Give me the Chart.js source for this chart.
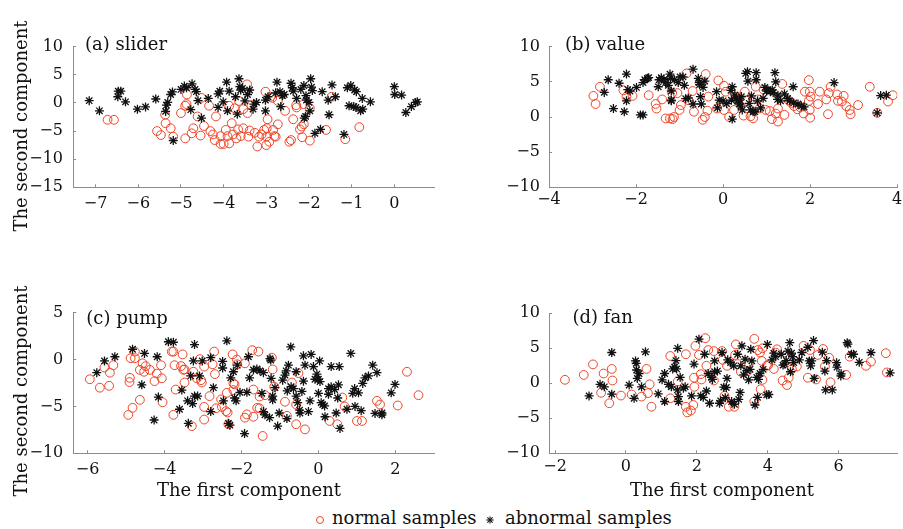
<!DOCTYPE html>
<html>
<head>
<meta charset="utf-8">
<title>PCA scatter</title>
<script src="https://cdn.jsdelivr.net/npm/chart.js@4.4.1/dist/chart.umd.min.js"></script>
<style>
  body { margin: 0; background: #fff; }
  #fig { position: relative; width: 903px; height: 529px; overflow: hidden; font-family: "DejaVu Serif", serif; color: #111; }
  #fig canvas { position: absolute; }
  .txt { position: absolute; font-size: 18px; line-height: 18px; white-space: nowrap; }
  .ytitle { transform: translate(-50%, -50%) rotate(-90deg); }
  .xtitle { transform: translateX(-50%); }
  .mk-circle { position: absolute; width: 8px; height: 8px; border: 1px solid #ee4426; border-radius: 50%; box-sizing: border-box; }
</style>
</head>
<body>
<div id="fig">
  <canvas id="chartA" width="450" height="230" style="left:0;top:0"></canvas>
  <canvas id="chartB" width="443" height="230" style="left:460px;top:0"></canvas>
  <canvas id="chartC" width="450" height="210" style="left:0;top:270px"></canvas>
  <canvas id="chartD" width="443" height="210" style="left:460px;top:270px"></canvas>

  <div class="txt ytitle" style="left:21px;top:126px">The second component</div>
  <div class="txt ytitle" style="left:21px;top:391px">The second component</div>
  <div class="txt xtitle" style="left:249px;top:481px">The first component</div>
  <div class="txt xtitle" style="left:722px;top:481px">The first component</div>

  <!-- legend -->
  <div class="mk-circle" style="left:316px;top:516px"></div>
  <div class="txt" style="left:332px;top:509px">normal samples</div>
  <svg style="position:absolute;left:485px;top:515px" width="10" height="10" viewBox="-5 -5 10 10">
    <g stroke="#111" stroke-width="1.1">
      <line x1="-3.6" y1="0" x2="3.6" y2="0"/><line x1="0" y1="-3.6" x2="0" y2="3.6"/>
      <line x1="-2.6" y1="-2.6" x2="2.6" y2="2.6"/><line x1="-2.6" y1="2.6" x2="2.6" y2="-2.6"/>
    </g>
  </svg>
  <div class="txt" style="left:505px;top:509px">abnormal samples</div>
</div>

<script>
// tick values of each panel
const sliderXTicks = [-7, -6, -5, -4, -3, -2, -1, 0];
const sliderYTicks = [-15, -10, -5, 0, 5, 10];
const valueXTicks = [-4, -2, 0, 2, 4];
const valueYTicks = [-10, -5, 0, 5, 10];
const pumpXTicks = [-6, -4, -2, 0, 2];
const pumpYTicks = [-10, -5, 0, 5];
const fanXTicks = [-2, 0, 2, 4, 6];
const fanYTicks = [-10, -5, 0, 5, 10];

// (a) slider
const sliderNormal = [
  [-6.72,-3.0],[-6.57,-3.0],[-5.56,-5.0],[-5.47,-5.7],[-5.36,-3.6],[-5.37,-2.1],[-5.24,-4.5],[-5.18,-6.0],[-5.0,-1.8],[-4.9,-6.3],
  [-4.87,-0.2],[-4.86,1.5],[-4.9,-0.5],[-4.75,-5.4],[-4.71,-4.5],[-4.61,-2.4],[-4.54,-5.8],[-4.52,0.9],[-4.46,-4.1],[-4.34,-0.5],
  [-4.31,-5.0],[-4.25,-5.6],[-4.21,-6.6],[-4.18,-2.4],[-4.07,-5.9],[-4.07,-7.3],[-4.0,-7.3],[-3.95,-4.8],[-3.91,-5.9],[-3.87,-0.5],
  [-3.87,-7.2],[-3.81,-3.6],[-3.78,-5.6],[-3.74,-0.95],[-3.7,-6.3],[-3.66,-4.7],[-3.64,0.35],[-3.6,-5.9],[-3.54,-4.5],[-3.54,-1.1],
  [-3.45,3.3],[-3.44,-1.8],[-3.42,-6.0],[-3.39,-4.9],[-3.35,-0.4],[-3.27,-5.3],[-3.21,-7.75],[-3.17,-6.0],[-3.11,-5.6],[-3.05,-4.8],
  [-3.02,2.0],[-3.0,-7.5],[-3.0,-6.0],[-2.99,-4.5],[-2.97,-2.9],[-2.93,-6.9],[-2.9,1.1],[-2.84,-4.8],[-2.81,-5.9],[-2.78,-6.0],
  [-2.73,-3.8],[-2.86,0.9],[-2.73,0.35],[-2.56,-1.4],[-2.46,-6.9],[-2.42,-6.6],[-2.37,-2.9],[-2.3,-0.4],[-2.29,-0.8],[-2.21,-4.7],
  [-2.17,-4.2],[-2.16,-6.1],[-2.13,-0.2],[-2.12,-3.8],[-1.98,-0.95],[-1.98,-6.7],[-1.6,-4.8],[-1.47,1.1],[-1.15,-6.45],[-0.82,-4.3]
];
const sliderAbnormal = [
  [-7.15,0.4],[-6.91,-1.4],[-6.47,2.1],[-6.41,2.1],[-6.48,1.1],[-6.3,0.2],[-6.02,-1.1],[-5.83,-0.7],[-5.59,0.7],[-5.36,-1.5],
  [-5.34,-0.4],[-5.31,0.1],[-5.2,1.95],[-5.24,1.5],[-5.18,-6.7],[-5.0,2.4],[-4.92,3.0],[-4.87,2.7],[-4.74,3.4],[-4.67,2.4],
  [-4.64,2.0],[-4.77,-1.2],[-4.6,0.4],[-4.52,-2.7],[-4.36,0.8],[-4.13,1.6],[-4.09,2.1],[-4.01,0.2],[-4.13,-0.8],[-3.93,3.7],
  [-3.91,-1.4],[-3.87,2.1],[-3.72,1.1],[-3.64,4.3],[-3.62,2.9],[-3.6,2.3],[-3.56,2.6],[-3.68,-2.0],[-3.5,0.35],[-3.39,2.3],
  [-3.44,1.5],[-3.29,-0.2],[-3.23,0.1],[-3.31,-1.1],[-3.02,0.5],[-3.02,-1.4],[-2.96,1.1],[-2.75,3.7],[-2.78,1.8],[-2.68,2.0],
  [-2.62,1.3],[-2.58,1.5],[-2.66,-0.65],[-2.42,3.5],[-2.39,2.7],[-2.37,2.1],[-2.29,0.8],[-2.19,2.4],[-2.12,3.1],[-2.07,1.3],
  [-2.06,0.5],[-2.11,-2.7],[-2.08,-2.4],[-1.96,4.3],[-1.94,2.8],[-1.92,2.2],[-2.0,0.1],[-1.98,-1.4],[-1.86,-5.4],[-1.73,-4.7],
  [-1.69,2.0],[-1.46,3.2],[-1.55,0.5],[-1.53,-2.1],[-1.38,1.1],[-1.18,-5.6],[-1.1,2.7],[-1.02,3.1],[-0.93,2.3],[-0.89,2.0],
  [-1.06,-0.5],[-0.95,-0.65],[-0.9,-0.8],[-0.75,0.8],[-0.79,-1.4],[-0.74,-1.1],[-0.56,0.2],[0.0,2.9],[0.01,1.5],[0.17,1.4],
  [0.27,-1.7],[0.4,-0.65],[0.5,0.1],[0.54,0.2]
];

// (b) value
const valueNormal = [
  [-2.98,3.0],[-2.93,1.85],[-2.83,4.3],[-2.29,3.8],[-2.22,2.9],[-2.08,3.0],[-1.71,3.1],[-1.55,1.85],[-1.53,1.2],[-1.4,2.5],
  [-1.32,-0.2],[-1.22,-0.2],[-1.16,-0.3],[-1.13,0.0],[-1.17,3.4],[-1.05,3.4],[-1.0,1.0],[-0.97,1.7],[-0.84,6.2],[-0.8,2.4],
  [-0.7,3.7],[-0.67,0.75],[-0.47,-0.4],[-0.42,0.0],[-0.4,6.1],[-0.36,0.9],[-0.34,2.9],[-0.11,5.2],[-0.14,1.2],[0.02,4.45],
  [0.02,1.0],[0.06,3.6],[0.14,0.0],[0.25,1.0],[0.32,2.9],[0.47,0.2],[0.5,3.6],[0.54,2.3],[0.63,0.1],[0.69,-0.2],
  [0.75,4.3],[0.8,2.5],[0.84,1.2],[0.93,3.9],[0.98,1.0],[1.07,0.85],[1.12,-0.3],[1.21,0.5],[1.26,-0.65],[1.26,1.2],
  [1.36,4.7],[1.41,0.3],[1.5,2.4],[1.57,2.0],[1.63,1.55],[1.71,1.1],[1.77,1.4],[1.85,0.5],[1.88,3.6],[1.97,5.25],
  [1.99,3.6],[2.01,2.9],[1.99,1.0],[2.0,-0.1],[1.97,2.3],[2.18,1.85],[2.22,3.6],[2.37,2.5],[2.41,0.4],[2.43,3.4],
  [2.47,4.3],[2.62,3.2],[2.64,2.3],[2.73,2.2],[2.77,3.0],[2.83,1.55],[2.91,1.0],[2.93,0.4],[3.1,1.7],[3.37,4.3],
  [3.54,0.6],[3.79,2.2],[3.9,3.1]
];
const valueAbnormal = [
  [-2.73,3.5],[-2.64,5.3],[-2.52,1.2],[-2.39,4.8],[-2.27,0.75],[-2.22,6.1],[-2.22,2.3],[-2.19,3.9],[-2.14,3.7],[-1.99,4.2],
  [-1.9,0.3],[-1.84,0.3],[-1.84,4.9],[-1.8,5.3],[-1.74,5.5],[-1.71,5.6],[-1.49,4.3],[-1.47,5.3],[-1.42,5.6],[-1.36,5.3],
  [-1.32,4.9],[-1.26,4.5],[-1.22,6.1],[-1.21,5.5],[-1.19,3.7],[-1.19,2.4],[-1.19,2.3],[-1.12,5.3],[-1.03,4.9],[-0.99,5.7],
  [-0.92,5.7],[-0.89,4.5],[-0.86,2.6],[-0.8,2.7],[-0.69,6.8],[-0.69,1.85],[-0.57,5.5],[-0.55,4.9],[-0.54,4.6],[-0.52,2.9],
  [-0.5,1.85],[-0.46,4.2],[-0.42,5.1],[-0.15,3.6],[-0.13,1.3],[-0.09,2.4],[0.0,2.3],[0.08,1.9],[0.18,3.8],[0.21,4.3],
  [0.21,-0.3],[0.19,2.4],[0.27,3.1],[0.31,2.65],[0.33,2.3],[0.37,1.85],[0.38,2.4],[0.41,1.55],[0.44,1.0],[0.42,2.9],
  [0.52,6.2],[0.56,6.45],[0.57,5.1],[0.6,1.95],[0.63,1.0],[0.65,3.0],[0.69,0.75],[0.73,0.75],[0.76,6.3],[0.76,5.3],
  [0.79,2.3],[0.86,1.3],[0.92,2.65],[0.96,4.2],[1.0,3.7],[1.03,3.85],[1.09,3.7],[1.13,3.85],[1.15,3.45],[1.19,6.3],
  [1.21,5.0],[1.25,2.5],[1.26,3.1],[1.32,2.3],[1.41,3.3],[1.48,2.65],[1.53,2.3],[1.61,4.3],[1.62,2.0],[1.72,1.85],
  [1.8,1.55],[1.86,1.45],[2.55,4.9],[3.54,0.6],[3.62,3.05],[3.75,3.1]
];

// (c) pump
const pumpNormal = [
  [-5.94,-2.1],[-5.68,-3.0],[-5.56,-0.85],[-5.42,-1.4],[-5.44,-2.8],[-5.33,-0.6],[-4.94,-5.9],[-4.91,-2.4],[-4.9,-1.95],[-4.88,0.15],
  [-4.83,-5.15],[-4.77,0.15],[-4.77,0.85],[-4.64,-4.3],[-4.64,-1.1],[-4.57,-0.4],[-4.53,-1.3],[-4.49,-0.7],[-4.38,-1.1],[-4.26,-2.3],
  [-4.2,-1.5],[-4.09,-0.6],[-4.07,-2.0],[-4.05,-4.55],[-3.81,0.85],[-3.77,0.85],[-3.77,-5.9],[-3.74,-0.6],[-3.71,-3.2],[-3.57,-0.7],
  [-3.53,0.55],[-3.51,-1.1],[-3.48,-2.45],[-3.48,-1.05],[-3.29,-7.1],[-3.25,-1.3],[-3.16,-2.0],[-3.08,0.05],[-3.05,-2.2],[-3.03,-2.45],
  [-2.97,-5.05],[-2.97,-6.4],[-2.97,-0.75],[-2.83,-3.9],[-2.75,-0.5],[-2.71,0.85],[-2.69,-1.55],[-2.66,-5.2],[-2.53,-4.25],[-2.51,-5.05],
  [-2.4,-5.5],[-2.38,-3.55],[-2.36,-5.65],[-2.34,-6.9],[-2.23,0.55],[-2.21,-2.55],[-2.21,-3.25],[-2.18,-2.65],[-2.12,0.0],[-2.11,-0.5],
  [-1.91,-6.2],[-1.86,-5.85],[-1.91,-0.4],[-1.72,1.0],[-1.69,-3.2],[-1.69,-6.1],[-1.59,-5.15],[-1.56,0.85],[-1.53,-3.95],[-1.53,-5.2],
  [-1.45,-8.15],[-1.39,-3.8],[-1.21,0.2],[-1.19,-1.05],[-1.15,-2.9],[-0.87,-4.5],[-0.82,-6.0],[-0.69,-2.45],[-0.58,-4.8],[-0.58,-6.9],
  [-0.52,-1.45],[-0.35,-7.45],[0.29,-6.55],[0.49,-6.9],[0.62,-4.05],[0.68,-5.0],[1.0,-6.55],[1.13,-6.55],[1.52,-4.4],[1.6,-4.8],
  [2.06,-4.9],[2.3,-1.3],[2.6,-3.8]
];
const pumpAbnormal = [
  [-5.76,-1.4],[-5.56,-0.15],[-5.29,0.3],[-4.83,1.1],[-4.59,-2.7],[-4.52,0.65],[-4.27,-6.45],[-4.19,0.3],[-4.16,-4.0],[-3.9,1.9],
  [-3.77,1.85],[-3.61,-5.3],[-3.55,-3.25],[-3.4,-4.4],[-3.38,-6.8],[-3.32,-1.75],[-3.25,-0.15],[-3.22,1.6],[-3.22,-3.9],[-3.27,-4.7],
  [-3.14,-3.9],[-3.09,-1.75],[-3.02,-0.15],[-2.8,0.2],[-2.8,-5.55],[-2.73,-3.0],[-2.49,-0.2],[-2.49,-0.9],[-2.47,-4.4],[-2.38,2.0],
  [-2.34,-6.8],[-2.3,-7.0],[-2.28,-1.95],[-2.21,-1.3],[-2.18,-4.1],[-2.14,-4.4],[-2.11,-0.6],[-2.04,-3.5],[-1.92,-7.9],[-1.86,-3.5],
  [-1.82,0.3],[-1.79,-1.95],[-1.69,-1.1],[-1.6,-1.0],[-1.52,-1.2],[-1.47,-3.6],[-1.43,-1.4],[-1.43,-5.55],[-1.39,-5.9],[-1.27,-6.2],
  [-1.26,0.1],[-1.24,-0.05],[-1.23,-2.0],[-1.19,-4.3],[-1.19,-3.9],[-1.13,-3.0],[-1.06,-7.1],[-1.02,-5.7],[-0.93,-2.2],[-0.87,-1.65],
  [-0.84,-1.2],[-0.82,-6.3],[-0.81,-3.35],[-0.78,-0.6],[-0.72,1.35],[-0.71,-2.9],[-0.65,-3.1],[-0.58,-1.3],[-0.58,-3.9],[-0.54,-4.6],
  [-0.49,-5.4],[-0.48,-5.7],[-0.43,-3.4],[-0.39,0.4],[-0.39,-2.3],[-0.35,-0.6],[-0.26,-5.55],[-0.22,-4.4],[-0.19,0.55],[-0.13,-0.75],
  [-0.09,-2.1],[-0.04,-1.55],[0.0,-2.1],[0.03,-0.15],[0.0,-3.6],[0.04,-2.35],[0.07,-4.6],[0.11,-4.8],[0.16,-4.95],[0.17,-6.1],
  [0.26,-3.1],[0.26,-3.7],[0.33,-0.75],[0.33,-2.9],[0.42,-3.2],[0.46,-5.7],[0.52,-2.7],[0.54,-0.75],[0.5,-4.1],[0.56,-7.35],
  [0.74,-5.3],[0.84,0.65],[0.89,-3.6],[0.94,-3.1],[0.95,-5.0],[1.04,-3.55],[1.11,-5.45],[1.15,-2.55],[1.21,-1.95],[1.3,-1.75],
  [1.41,-0.6],[1.47,-5.75],[1.52,-1.4],[1.65,-5.7],[1.65,-5.9],[1.89,-3.55],[1.99,-2.65]
];

// (d) fan
const fanNormal = [
  [-1.72,0.5],[-1.19,1.2],[-0.93,2.7],[-0.7,-1.35],[-0.63,1.4],[-0.47,-2.85],[-0.4,2.05],[-0.38,0.4],[-0.14,-1.75],[0.16,-1.6],
  [0.44,-1.9],[0.58,2.05],[0.62,-1.4],[0.67,-0.15],[0.72,-3.35],[1.25,3.9],[1.25,-2.15],[1.46,0.25],[1.69,4.15],[1.69,-3.35],
  [1.73,-4.15],[1.83,-3.9],[1.9,-3.1],[1.93,-0.5],[1.92,0.8],[1.96,5.35],[2.06,4.05],[2.11,1.3],[2.13,0.55],[2.24,6.45],
  [2.27,2.5],[2.32,4.75],[2.48,0.4],[2.48,4.6],[2.71,4.6],[2.73,3.35],[2.78,-1.8],[2.85,2.5],[2.9,-3.35],[3.06,-3.35],
  [3.08,4.05],[3.1,5.55],[3.15,2.75],[3.24,1.65],[3.43,1.75],[3.47,2.85],[3.62,-2.6],[3.62,6.35],[3.72,4.75],[3.78,4.4],
  [3.83,3.2],[3.85,0.5],[3.8,-0.85],[3.85,5.0],[3.97,2.5],[4.01,2.6],[4.17,2.05],[4.22,4.4],[4.26,4.85],[4.42,0.4],
  [4.54,-0.25],[4.59,0.8],[4.61,3.5],[4.68,2.05],[4.82,2.4],[5.01,5.35],[5.13,0.8],[5.19,4.75],[5.36,0.55],[5.41,4.05],
  [5.56,4.9],[5.61,2.4],[5.73,3.65],[5.77,0.15],[6.21,1.2],[6.31,3.8],[6.77,2.5],[6.91,3.1],[7.33,4.3],[7.36,1.55]
];
const fanAbnormal = [
  [-1.04,-1.8],[-0.73,-0.15],[-0.61,-0.5],[-0.4,4.4],[-0.4,-1.55],[0.09,-0.25],[0.23,-2.15],[0.27,3.2],[0.29,2.85],[0.3,1.9],
  [0.32,0.7],[0.37,1.4],[0.44,-0.5],[0.55,4.5],[0.91,-1.5],[1.02,0.5],[1.09,1.4],[1.09,-2.6],[1.2,-0.15],[1.28,-0.5],
  [1.32,2.05],[1.37,2.3],[1.41,3.25],[1.43,2.05],[1.45,-0.95],[1.46,5.0],[1.48,-1.9],[1.48,-2.6],[1.53,0.85],[1.62,-0.7],
  [1.67,-0.5],[1.85,-1.8],[1.92,2.75],[2.06,6.3],[2.11,-1.8],[2.18,-2.0],[2.22,4.15],[2.27,-1.1],[2.32,1.4],[2.36,-2.85],
  [2.41,0.85],[2.44,0.55],[2.5,3.2],[2.5,1.65],[2.58,1.75],[2.64,-2.85],[2.67,-2.5],[2.71,4.4],[2.76,-0.55],[2.8,-2.05],
  [2.83,-0.6],[2.85,0.7],[2.87,3.35],[2.95,2.95],[2.98,-2.6],[3.04,2.5],[3.06,-3.0],[3.15,4.15],[3.18,-2.3],[3.22,-1.3],
  [3.24,2.5],[3.27,5.35],[3.32,1.2],[3.36,3.45],[3.41,1.8],[3.46,0.5],[3.5,2.0],[3.52,4.85],[3.55,3.2],[3.64,-3.1],
  [3.69,0.85],[3.71,-2.0],[3.74,0.55],[3.78,1.4],[3.87,2.0],[3.97,-1.65],[3.99,5.55],[4.03,-1.6],[4.12,3.35],[4.17,4.3],
  [4.22,3.8],[4.38,4.15],[4.43,2.6],[4.47,2.75],[4.52,3.25],[4.57,4.6],[4.62,5.8],[4.64,1.65],[4.67,4.3],[4.7,3.8],
  [4.73,2.95],[4.89,3.35],[4.96,4.4],[5.13,5.15],[5.17,3.2],[5.21,2.5],[5.24,3.2],[5.29,6.1],[5.31,0.7],[5.54,4.45],
  [5.61,1.75],[5.63,-0.95],[5.66,3.25],[5.82,-0.95],[5.94,2.95],[5.95,2.3],[6.06,1.05],[6.07,1.35],[6.24,5.8],[6.26,5.6],
  [6.36,4.15],[6.42,4.15],[6.58,3.0],[6.91,4.4],[7.45,1.5]
];

const inkColor = "#111";
const axisGray = "#8c8c8c";
const normalRed = "#ee4426";
const tickFont = { family: "DejaVu Serif", size: 16 };

function fmt(v) {
  return v < 0 ? "\u2212" + Math.abs(v) : String(v);
}

// panel caption drawn inside the plot area, like "(a) slider"
const panelLabel = {
  id: "panelLabel",
  afterDraw(chart, args, opts) {
    const { ctx, chartArea } = chart;
    ctx.save();
    ctx.font = '18px "DejaVu Serif"';
    ctx.fillStyle = inkColor;
    ctx.textBaseline = "middle";
    ctx.fillText(opts.text, chartArea.left + opts.dx, chartArea.top + opts.dy);
    ctx.restore();
  },
};

function axis(min, max, tickVals, size, pad) {
  return {
    type: "linear",
    min: min,
    max: max,
    afterBuildTicks: (s) => { s.ticks = tickVals.map((v) => ({ value: v })); },
    afterFit: (s) => {
      if (s.isHorizontal()) { s.height = size; s.paddingLeft = 0; s.paddingRight = 0; }
      else { s.width = size; s.paddingTop = 0; s.paddingBottom = 0; }
    },
    grid: { drawOnChartArea: false, drawTicks: true, tickLength: -3, color: axisGray, lineWidth: 1 },
    border: { color: axisGray, width: 1 },
    ticks: { font: tickFont, color: inkColor, padding: pad, autoSkip: false, maxRotation: 0, callback: (v) => fmt(v) },
  };
}

function panel(id, normal, abnormal, label, xs, ys, padding) {
  return new Chart(document.getElementById(id), {
    type: "scatter",
    data: {
      datasets: [
        { label: "abnormal samples", data: abnormal, pointStyle: "star", radius: 4.5, borderColor: "#111", borderWidth: 1.3 },
        { label: "normal samples", data: normal, pointStyle: "circle", radius: 4.4, borderColor: normalRed, backgroundColor: "rgba(0,0,0,0)", borderWidth: 1 },
      ],
    },
    options: {
      responsive: false,
      animation: false,
      layout: { padding: padding },
      scales: { x: xs, y: ys },
      plugins: {
        legend: { display: false },
        tooltip: { enabled: false },
        panelLabel: label,
      },
    },
    plugins: [panelLabel],
  });
}

panel("chartA", sliderNormal, sliderAbnormal, { text: "(a) slider", dx: 12, dy: -1 },
  axis(-7.53, 0.93, sliderXTicks, 42.7, 10), axis(-15, 10, sliderYTicks, 73, 13),
  { top: 46.7, right: 16, left: 0, bottom: 0 });

panel("chartB", valueNormal, valueAbnormal, { text: "(b) value", dx: 16, dy: -1 },
  axis(-4, 4, valueXTicks, 42.7, 6), axis(-10, 10, valueYTicks, 89, 12),
  { top: 46.7, right: 5, left: 0, bottom: 0 });

panel("chartC", pumpNormal, pumpAbnormal, { text: "(c) pump", dx: 13, dy: 6.5 },
  axis(-6.37, 3.01, pumpXTicks, 26.7, 10), axis(-10, 5, pumpYTicks, 73.3, 13),
  { top: 42.7, right: 15.7, left: 0, bottom: 0 });

panel("chartD", fanNormal, fanAbnormal, { text: "(d) fan", dx: 23.5, dy: 5.5 },
  axis(-2.17, 7.65, fanXTicks, 26.7, 7), axis(-10, 10, fanYTicks, 89, 12),
  { top: 43.3, right: 1.3, left: 0, bottom: 0 });
</script>
</body>
</html>
